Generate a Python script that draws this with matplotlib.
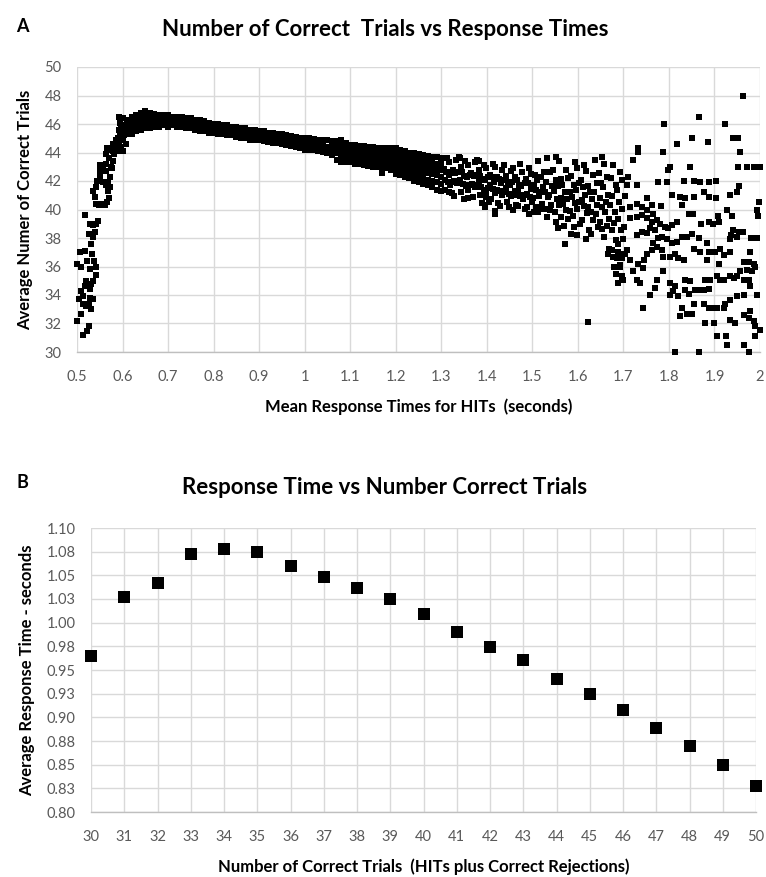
import matplotlib
matplotlib.use("Agg")
import matplotlib.pyplot as plt
import numpy as np

plt.rcParams['font.family'] = ['Lato', 'DejaVu Sans']

# ---------------- Panel A data ----------------
rise_x = [0.499, 0.506, 0.504, 0.500, 0.508, 0.513, 0.509, 0.517, 0.513, 0.520, 0.519, 0.524,
          0.528, 0.526, 0.531, 0.513, 0.522, 0.526, 0.517, 0.522, 0.528, 0.517, 0.529, 0.526,
          0.531, 0.535, 0.539, 0.534, 0.537, 0.542, 0.542, 0.541, 0.546, 0.536, 0.531, 0.536,
          0.535, 0.529, 0.509, 0.536, 0.542, 0.539, 0.542, 0.548, 0.553, 0.561, 0.566, 0.570,
          0.544, 0.550, 0.551, 0.550, 0.557, 0.563, 0.557, 0.563, 0.568, 0.572, 0.573, 0.568,
          0.564, 0.570, 0.575, 0.579, 0.577, 0.563, 0.566, 0.572, 0.579, 0.582, 0.586, 0.590,
          0.580, 0.585, 0.590, 0.593, 0.597, 0.601, 0.595, 0.592, 0.597, 0.602, 0.607, 0.604,
          0.595, 0.599, 0.608, 0.612, 0.617, 0.619, 0.612, 0.623, 0.626, 0.630, 0.634, 0.593,
          0.601]
rise_y = [36.2, 37.0, 33.7, 32.2, 32.7, 33.9, 36.0, 34.6, 33.4, 33.2, 35.0, 34.7,
          34.4, 33.4, 33.0, 31.2, 31.5, 31.8, 37.1, 36.4, 35.8, 39.6, 39.0, 38.3,
          37.6, 38.1, 38.4, 36.9, 36.4, 36.0, 35.4, 39.0, 39.2, 38.9, 34.8, 35.0,
          33.7, 33.8, 34.3, 41.3, 41.6, 40.9, 40.4, 40.3, 40.4, 40.3, 40.5, 40.8,
          42.0, 42.3, 42.7, 43.1, 43.0, 42.7, 41.9, 41.7, 41.9, 42.3, 41.6, 41.3,
          43.2, 43.6, 43.0, 43.4, 42.9, 43.9, 44.3, 44.2, 44.1, 43.9, 44.3, 44.1,
          44.6, 44.9, 45.0, 44.6, 44.4, 44.1, 45.2, 45.6, 45.9, 44.9, 44.6, 45.2,
          46.1, 45.6, 45.6, 45.9, 46.3, 45.7, 45.3, 45.9, 46.1, 45.7, 46.0, 46.5,
          46.4]

band_x = [0.61, 0.62, 0.63, 0.64, 0.65, 0.66, 0.67, 0.68, 0.69, 0.70, 0.71, 0.72, 0.73, 0.74,
          0.75, 0.76, 0.77, 0.78, 0.79, 0.80, 0.81, 0.82, 0.83, 0.84, 0.85, 0.86, 0.87, 0.88,
          0.89, 0.90, 0.91, 0.92, 0.93, 0.94, 0.95, 0.96, 0.97, 0.98, 0.99, 1.00, 1.01, 1.02,
          1.03, 1.04, 1.05]
band_y = [[46.3, 45.9, 45.5], [46.5, 46.1, 45.7, 45.3], [46.6, 46.2, 45.8, 45.5],
          [46.8, 46.4, 46.0, 45.6], [46.9, 46.5, 46.1, 45.7], [46.8, 46.4, 46.1, 45.7],
          [46.7, 46.3, 46.0, 45.8], [46.6, 46.3, 46.0, 45.8], [46.6, 46.2, 45.9],
          [46.6, 46.2, 45.8], [46.5, 46.2, 45.9], [46.5, 46.1, 45.8], [46.5, 46.2, 45.8],
          [46.4, 46.0, 45.7], [46.4, 46.1, 45.7], [46.3, 45.9, 45.6], [46.3, 45.9, 45.5],
          [46.2, 45.8, 45.5], [46.1, 45.7, 45.4], [46.0, 45.7, 45.4], [46.0, 45.6, 45.3],
          [45.9, 45.6, 45.3], [45.9, 45.5, 45.2], [45.8, 45.5, 45.2], [45.8, 45.4, 45.1],
          [45.7, 45.3, 45.0], [45.7, 45.3, 45.0], [45.6, 45.2, 44.9], [45.6, 45.2, 44.9],
          [45.5, 45.2, 44.85], [45.5, 45.1, 44.8], [45.4, 45.05, 44.75], [45.4, 45.0, 44.7],
          [45.3, 44.95, 44.65], [45.3, 44.9, 44.6], [45.2, 44.85, 44.5], [45.15, 44.8, 44.45],
          [45.1, 44.75, 44.4], [45.05, 44.7, 44.3], [45.0, 44.6, 44.2], [45.0, 44.6, 44.2],
          [44.95, 44.55, 44.15], [44.9, 44.5, 44.1], [44.9, 44.45, 44.05], [44.85, 44.4, 44.0]]

wide_x = [1.06, 1.07, 1.08, 1.09, 1.10, 1.11, 1.12, 1.13, 1.14, 1.15, 1.16, 1.17, 1.18, 1.19,
          1.20, 1.21, 1.22, 1.23, 1.24, 1.25, 1.26, 1.27, 1.28, 1.29, 1.30]
wide_y = [[44.8, 44.4, 44.1, 43.8], [44.8, 44.4, 44.0, 43.5], [44.9, 44.5, 44.1, 43.7, 43.3],
          [44.7, 44.3, 43.9, 43.6, 43.3], [44.5, 44.2, 43.9, 43.6, 43.3],
          [44.5, 44.1, 43.8, 43.5, 43.2], [44.45, 44.1, 43.8, 43.5, 43.2],
          [44.45, 44.1, 43.75, 43.4, 43.1], [44.4, 44.05, 43.7, 43.4, 43.05],
          [44.4, 44.0, 43.7, 43.35, 43.0], [44.35, 44.0, 43.6, 43.25, 43.0],
          [44.35, 43.95, 43.6, 43.25, 42.95], [44.3, 43.9, 43.55, 43.2, 42.9],
          [44.3, 43.9, 43.5, 43.1, 42.8], [44.3, 43.9, 43.5, 43.1, 42.8, 42.5],
          [44.2, 43.8, 43.4, 43.0, 42.7, 42.4], [44.1, 43.7, 43.3, 42.95, 42.6, 42.3],
          [44.0, 43.6, 43.25, 42.9, 42.5, 42.2], [43.95, 43.6, 43.2, 42.8, 42.4, 42.0],
          [43.9, 43.5, 43.1, 42.7, 42.3, 41.9], [43.8, 43.4, 43.0, 42.6, 42.2, 41.8],
          [43.75, 43.35, 42.95, 42.55, 42.1, 41.7], [43.7, 43.3, 42.9, 42.5, 42.0, 41.6],
          [43.65, 43.2, 42.8, 42.4, 41.9, 41.4], [43.6, 43.2, 42.8, 42.3, 41.8, 41.3]]

cloud_x = [1.313, 1.306, 1.311, 1.308, 1.314, 1.309,
           1.318, 1.323, 1.316, 1.322, 1.319, 1.324,
           1.333, 1.326, 1.331, 1.328, 1.334, 1.329,
           1.338, 1.343, 1.336, 1.342, 1.339, 1.344,
           1.353, 1.346, 1.351, 1.348, 1.354, 1.349,
           1.358, 1.363, 1.356, 1.362, 1.359,
           1.373, 1.366, 1.371, 1.368, 1.374, 1.369,
           1.378, 1.383, 1.376, 1.382, 1.379, 1.384,
           1.393, 1.386, 1.391, 1.388, 1.394, 1.389,
           1.398, 1.403, 1.396, 1.402, 1.399, 1.404, 1.397,
           1.413, 1.406, 1.411, 1.408, 1.414, 1.409,
           1.418, 1.423, 1.416, 1.422, 1.419, 1.424, 1.417,
           1.433, 1.426, 1.431, 1.428, 1.434, 1.429,
           1.438, 1.443, 1.436, 1.442, 1.439, 1.444,
           1.453, 1.446, 1.451, 1.448, 1.454, 1.449,
           1.458, 1.463, 1.456, 1.462, 1.459, 1.464, 1.457,
           1.473, 1.466, 1.471, 1.468, 1.474, 1.469,
           1.478, 1.483, 1.476, 1.482, 1.479, 1.484,
           1.493, 1.486, 1.491, 1.488, 1.494, 1.489, 1.492,
           1.498, 1.503, 1.496, 1.502, 1.499, 1.504,
           1.513, 1.506, 1.511, 1.508, 1.514, 1.509, 1.512,
           1.518, 1.523, 1.516, 1.522, 1.519,
           1.533, 1.526, 1.531, 1.528, 1.534, 1.529, 1.532,
           1.538, 1.543, 1.536, 1.542, 1.539,
           1.553, 1.546, 1.551, 1.548, 1.554, 1.549, 1.552,
           1.558, 1.563, 1.556, 1.562, 1.559, 1.564, 1.557,
           1.573, 1.566, 1.571, 1.568, 1.574, 1.569, 1.572,
           1.578, 1.583, 1.576, 1.582, 1.579, 1.584,
           1.593, 1.586, 1.591, 1.588, 1.594, 1.589, 1.592,
           1.598, 1.603, 1.596, 1.602, 1.599, 1.604, 1.597,
           1.613, 1.606, 1.611, 1.608, 1.614, 1.609,
           1.618, 1.623, 1.616, 1.622, 1.619, 1.624, 1.617, 1.623,
           1.633, 1.626, 1.631, 1.628, 1.634, 1.629,
           1.638, 1.643, 1.636, 1.642, 1.639, 1.644,
           1.653, 1.646, 1.651, 1.648, 1.654, 1.649, 1.652,
           1.658, 1.663, 1.656, 1.662, 1.659, 1.664, 1.657,
           1.673, 1.666, 1.671, 1.668, 1.674, 1.669,
           1.678, 1.683, 1.676, 1.682, 1.679, 1.684, 1.677,
           1.693, 1.686, 1.691, 1.688, 1.694, 1.689, 1.692,
           1.698, 1.703, 1.696, 1.702, 1.699, 1.704, 1.697]
cloud_y = [43.6, 42.85, 42.65, 42.1, 41.95, 41.35,
           43.3, 42.65, 42.45, 41.9, 41.75, 41.15,
           43.5, 42.75, 42.55, 42.0, 41.85, 40.95,
           43.7, 42.95, 42.65, 42.1, 41.95, 41.25,
           43.4, 42.65, 42.35, 41.8, 41.65, 40.75,
           43.1, 42.45, 42.25, 41.7, 41.35,
           43.3, 42.55, 42.35, 41.8, 41.55, 40.85,
           43.5, 42.75, 42.45, 41.9, 41.75, 41.05,
           43.1, 42.35, 42.15, 41.6, 41.35, 40.45,
           42.9, 42.25, 42.05, 41.5, 41.25, 40.55, 40.3,
           43.2, 42.45, 42.25, 41.7, 41.45, 40.75,
           43.0, 42.25, 41.95, 41.4, 41.15, 40.45, 39.9,
           42.8, 42.15, 41.85, 41.3, 41.05, 40.25,
           43.1, 42.35, 42.05, 41.5, 41.25, 40.55,
           42.7, 41.95, 41.75, 41.1, 40.95, 40.15,
           42.9, 42.25, 41.95, 41.3, 41.05, 40.35, 40.0,
           43.2, 42.05, 41.75, 41.2, 40.95, 40.25,
           42.6, 41.85, 41.65, 41.0, 40.75, 40.05,
           42.9, 42.15, 41.85, 41.1, 40.85, 40.15, 39.7,
           42.5, 41.75, 41.45, 40.8, 40.55, 39.85,
           43.4, 42.45, 42.05, 41.4, 40.95, 40.15, 39.8,
           42.3, 41.55, 41.25, 40.4, 40.05,
           43.6, 42.65, 41.95, 41.2, 40.85, 40.05, 39.5,
           42.6, 41.65, 41.05, 40.3, 39.95,
           43.7, 42.75, 42.05, 41.3, 40.75, 39.85, 39.1,
           43.4, 42.15, 41.65, 40.8, 40.35, 39.45, 38.7,
           42.8, 41.75, 41.25, 40.4, 39.95, 38.85, 37.6,
           42.2, 41.25, 40.75, 39.9, 39.35, 38.25,
           43.3, 42.35, 41.75, 40.9, 40.45, 39.55, 38.8,
           42.9, 41.85, 41.35, 40.5, 40.05, 38.95, 38.2,
           43.1, 42.05, 41.55, 40.7, 40.25, 39.25,
           42.7, 41.65, 41.05, 40.2, 39.75, 38.55, 37.9, 32.1,
           42.4, 41.25, 40.75, 39.8, 39.25, 38.25,
           43.5, 41.85, 41.25, 40.3, 39.65, 38.75,
           43.7, 42.55, 41.85, 40.8, 40.15, 39.15, 38.6,
           43.2, 42.25, 41.55, 40.5, 39.85, 38.85, 38.1,
           42.2, 41.05, 40.35, 39.3, 38.55, 37.25,
           43.1, 41.75, 40.95, 39.8, 39.05, 37.85, 36.7,
           42.6, 41.35, 40.55, 39.3, 38.55, 37.55, 36.1,
           42.1, 40.95, 40.05, 38.8, 37.95, 36.85, 35.2]

out_x = [1.169, 1.226, 1.265, 1.342, 1.382, 1.274, 1.318, 1.358, 1.396, 1.418, 1.398]
out_y = [42.56, 44.0, 43.7, 43.6, 43.4, 41.7, 41.2, 40.8, 40.2, 39.7, 40.9]

tail_x = [1.962, 1.865, 1.790, 1.924, 1.850, 1.885, 1.817, 1.941, 1.951, 1.733, 1.733, 1.786,
          1.957, 1.720, 1.802, 1.797, 1.847, 1.951, 1.971, 1.986, 1.999, 1.711, 1.707, 1.729,
          1.777, 1.795, 1.832, 1.855, 1.869, 1.887, 1.904, 1.949, 1.953, 1.806, 1.825, 1.836,
          1.855, 1.876, 1.887, 1.935, 1.904, 1.997, 1.993, 1.995, 1.762, 1.782, 1.751, 1.828,
          1.843, 1.852, 1.927, 1.907, 1.938, 1.870, 1.887, 1.896, 1.911, 1.940, 1.953, 1.963,
          1.993, 1.981, 1.806, 1.799, 1.817, 1.850, 1.865, 1.883, 1.855, 1.869, 1.887, 1.902,
          1.913, 1.935, 1.883, 1.920, 1.909, 1.935, 1.936, 1.949, 1.979, 1.964, 1.975, 1.986,
          1.990, 1.983, 1.971, 1.957, 1.949, 1.964, 1.975, 1.979, 1.993, 1.836, 1.847, 1.836,
          1.843, 1.858, 1.865, 1.876, 1.887, 1.880, 1.891, 1.905, 1.913, 1.920, 1.935, 1.942,
          1.788, 1.802, 1.814, 1.808, 1.773, 1.769, 1.758, 1.802, 1.821, 1.828, 1.825, 1.839,
          1.850, 1.854, 1.876, 1.887, 1.894, 1.905, 1.920, 1.924, 1.935, 1.949, 1.964, 1.880,
          1.899, 1.935, 1.946, 1.964, 1.979, 1.986, 1.990, 1.999, 1.905, 1.926, 1.927, 1.964,
          1.988, 1.814, 1.866, 1.975, 1.975, 1.742, 1.722, 1.744, 1.733, 1.745, 1.729, 1.736,
          1.700, 1.689, 1.696, 1.679, 1.684, 1.692, 1.667, 1.674, 1.689, 1.700, 1.707, 1.685,
          1.696, 1.714, 1.751, 1.762, 1.773, 1.784, 1.788, 1.802, 1.813, 1.821, 1.832, 1.766,
          1.777, 1.784, 1.795, 1.806, 1.817, 1.828, 1.839, 1.729, 1.740, 1.751, 1.758, 1.769,
          1.780, 1.791, 1.714, 1.729, 1.740, 1.751, 1.762, 1.773, 1.714, 1.729, 1.740, 1.751,
          1.766]
tail_y = [48.0, 46.5, 46.0, 46.0, 45.0, 44.75, 44.6, 45.0, 45.0, 44.35, 44.05, 44.05,
          44.05, 43.5, 43.0, 42.8, 43.0, 43.0, 43.0, 43.0, 43.0, 42.25, 41.7, 41.7,
          41.95, 41.95, 42.0, 42.0, 41.95, 41.95, 42.0, 41.25, 41.65, 41.0, 40.9, 40.8,
          40.9, 41.25, 40.9, 41.0, 40.8, 40.55, 40.0, 39.55, 40.3, 40.25, 40.8, 40.3,
          39.7, 39.7, 40.0, 39.55, 39.55, 39.0, 39.1, 39.0, 39.1, 38.55, 38.45, 38.4,
          38.0, 38.0, 38.9, 38.7, 39.15, 38.25, 38.0, 37.65, 37.2, 37.05, 37.05, 37.05,
          37.2, 37.05, 36.45, 36.8, 36.2, 37.9, 38.2, 38.1, 37.05, 36.35, 36.35, 36.2,
          36.0, 35.65, 35.75, 35.65, 35.3, 35.05, 35.05, 34.6, 34.0, 35.05, 34.95, 34.35,
          34.1, 34.35, 34.35, 34.35, 34.4, 35.05, 35.05, 35.3, 35.05, 35.05, 35.3, 35.2,
          35.65, 34.85, 34.6, 34.25, 35.05, 34.5, 34.0, 34.0, 33.9, 33.1, 32.5, 32.7,
          32.7, 33.4, 33.4, 33.1, 33.1, 33.1, 33.1, 33.4, 33.65, 33.9, 34.0, 32.0,
          32.0, 32.25, 32.0, 32.6, 32.85, 32.15, 31.8, 31.55, 31.1, 31.1, 30.5, 30.5,
          31.1, 30.0, 30.0, 30.0, 32.4, 33.1, 35.65, 35.9, 36.2, 36.45, 35.05, 34.85,
          35.05, 34.85, 35.3, 36.0, 35.5, 36.0, 36.9, 37.15, 37.05, 36.9, 37.15, 36.6,
          36.6, 36.45, 36.9, 37.15, 37.4, 37.15, 36.7, 36.7, 36.9, 36.6, 36.45, 37.65,
          38.0, 38.1, 37.9, 37.65, 37.75, 38.1, 38.1, 38.2, 38.45, 38.35, 38.7, 38.55,
          39.0, 38.8, 39.4, 39.5, 39.6, 39.4, 39.15, 39.25, 40.2, 40.4, 40.2, 39.95,
          39.7]

xa_ticks = [0.5, 0.6, 0.7, 0.8, 0.9, 1.0, 1.1, 1.2, 1.3, 1.4, 1.5, 1.6, 1.7, 1.8, 1.9, 2.0]
xa_labels = ["0.5", "0.6", "0.7", "0.8", "0.9", "1", "1.1", "1.2", "1.3", "1.4", "1.5",
             "1.6", "1.7", "1.8", "1.9", "2"]
ya_ticks = [30, 32, 34, 36, 38, 40, 42, 44, 46, 48, 50]

# ---------------- Panel B data ----------------
trials = [30, 31, 32, 33, 34, 35, 36, 37, 38, 39, 40, 41, 42, 43, 44, 45, 46, 47, 48, 49, 50]
resp_time = [0.965, 1.027, 1.042, 1.073, 1.078, 1.075, 1.060, 1.048, 1.037, 1.025, 1.009,
             0.990, 0.974, 0.961, 0.941, 0.925, 0.908, 0.889, 0.870, 0.850, 0.827]
yb_labels = ["0.80", "0.83", "0.85", "0.88", "0.90", "0.93", "0.95", "0.98", "1.00", "1.03",
             "1.05", "1.08", "1.10"]

# ---------------- build figure ----------------
W, H = 766, 877
fig = plt.figure(figsize=(W / 100, H / 100), dpi=100)

GRID = '#d9d9d9'
TICKC = '#595959'


def style(ax):
    for s in ['top', 'right', 'left']:
        ax.spines[s].set_visible(False)
    ax.spines['bottom'].set_color('#bfbfbf')
    ax.spines['bottom'].set_linewidth(1.0)
    ax.grid(True, color=GRID, linewidth=1.0)
    ax.set_axisbelow(True)
    ax.tick_params(length=0, labelsize=10.5, labelcolor=TICKC)


axA = fig.add_axes([77 / W, 1 - 352 / H, (760 - 77) / W, (352 - 67) / H])
style(axA)
pts_x = list(rise_x) + list(out_x) + list(tail_x) + list(cloud_x)
pts_y = list(rise_y) + list(out_y) + list(tail_y) + list(cloud_y)
for cx, cys in zip(band_x + wide_x, band_y + wide_y):
    for cy in cys:
        pts_x.append(cx)
        pts_y.append(cy)
axA.plot(pts_x, pts_y, ls='none', marker='s', ms=4.3, mfc='black', mec='black', mew=0,
         clip_on=False, zorder=3)
axA.set_xlim(0.5, 2.0)
axA.set_ylim(30, 50)
axA.set_xticks(xa_ticks)
axA.set_xticklabels(xa_labels)
axA.set_yticks(ya_ticks)
axA.tick_params(axis='x', pad=13)
axA.tick_params(axis='y', pad=11)
axA.set_xlabel('Mean Response Times for HITs  (seconds)', fontsize=12, fontweight='bold',
               labelpad=10)
axA.set_ylabel('Average Numer of Correct Trials', fontsize=12, fontweight='bold', labelpad=8)

axB = fig.add_axes([91 / W, 1 - 812 / H, (756 - 91) / W, (812 - 528) / H])
style(axB)
axB.plot(trials, resp_time, ls='none', marker='s', ms=9, mfc='black', mec='black', mew=0,
         clip_on=False, zorder=3)
axB.set_xlim(30, 50)
axB.set_ylim(0.8, 1.1)
axB.set_xticks(trials)
axB.set_yticks(np.linspace(0.8, 1.1, len(yb_labels)))
axB.set_yticklabels(yb_labels)
axB.tick_params(axis='x', pad=13)
axB.tick_params(axis='y', pad=11)
axB.set_xlabel('Number of Correct Trials  (HITs plus Correct Rejections)', fontsize=12,
               fontweight='bold', labelpad=10)
axB.set_ylabel('Average Response Time - seconds', fontsize=12, fontweight='bold', labelpad=8)

fig.text(385 / W, 1 - 30 / H, 'Number of Correct  Trials vs Response Times', ha='center',
         va='center', fontsize=16, fontweight='bold')
fig.text(385 / W, 1 - 487 / H, 'Response Time vs Number Correct Trials', ha='center',
         va='center', fontsize=16, fontweight='bold')
fig.text(22 / W, 1 - 26 / H, 'A', ha='center', va='center', fontsize=13, fontweight='bold')
fig.text(22 / W, 1 - 483 / H, 'B', ha='center', va='center', fontsize=13, fontweight='bold')

fig.savefig('out.png', dpi=100)
